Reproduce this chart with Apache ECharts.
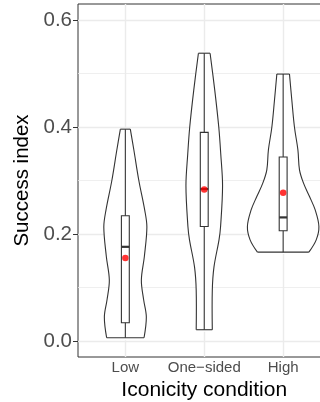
<!DOCTYPE html>
<html><head><meta charset="utf-8">
<script src="https://cdn.jsdelivr.net/npm/echarts@6/dist/echarts.min.js"></script>
<style>html,body{margin:0;padding:0;background:#fff}#c{width:320px;height:402px}</style>
</head><body><div id="c"></div>
<script>
const categories = ['Low', 'One\u2212sided', 'High'];
const xTickValues = [1, 2, 3];
const yTicks = [0, 0.2, 0.4, 0.6];
const yMinorGrid = [0.1, 0.3, 0.5];

// violin outlines (bottom to top): y values and half-widths in x-axis units
const lowViolinY = [0.006, 0.045, 0.077, 0.114, 0.158, 0.213, 0.245, 0.300, 0.357, 0.396];
const lowViolinW = [0.237, 0.266, 0.232, 0.203, 0.241, 0.273, 0.245, 0.171, 0.108, 0.063];
const oneViolinY = [0.021, 0.095, 0.138, 0.189, 0.214, 0.290, 0.350, 0.400, 0.469, 0.538];
const oneViolinW = [0.102, 0.102, 0.123, 0.187, 0.207, 0.232, 0.209, 0.184, 0.133, 0.074];
const highViolinY = [0.166, 0.189, 0.214, 0.245, 0.270, 0.295, 0.320, 0.357, 0.400, 0.450, 0.499];
const highViolinW = [0.326, 0.419, 0.453, 0.406, 0.334, 0.258, 0.207, 0.187, 0.143, 0.110, 0.080];

// boxplot statistics
const whiskerLow  = [0.006, 0.021, 0.166];
const q1          = [0.034, 0.214, 0.206];
const median      = [0.176, 0.284, 0.231];
const q3          = [0.234, 0.390, 0.344];
const whiskerHigh = [0.396, 0.538, 0.499];
const means       = [0.155, 0.283, 0.277];

const violinY = [lowViolinY, oneViolinY, highViolinY];
const violinW = [lowViolinW, oneViolinW, highViolinW];

const FONT = 'Liberation Sans, Arial, Helvetica, sans-serif';
const INK = '#333333';

function renderViolin(params, api) {
  const i = params.dataIndex;
  const cx = api.value(0);
  const ys = violinY[i], ws = violinW[i];
  const left = ys.map((y, k) => api.coord([cx - ws[k], y]));
  const right = ys.map((y, k) => api.coord([cx + ws[k], y]));
  const outline = left.concat(right.slice().reverse());
  const stroke = { stroke: INK, lineWidth: 1.1, fill: 'none' };
  const bw = 0.05;
  const tl = api.coord([cx - bw, q3[i]]);
  const br = api.coord([cx + bw, q1[i]]);
  const wLo = api.coord([cx, whiskerLow[i]]);
  const wHi = api.coord([cx, whiskerHigh[i]]);
  const mL = api.coord([cx - bw, median[i]]);
  const mR = api.coord([cx + bw, median[i]]);
  const n = left.length - 1;
  return {
    type: 'group',
    children: [
      { type: 'polygon', shape: { points: outline, smooth: 0.25 }, style: { fill: '#ffffff' } },
      { type: 'polyline', shape: { points: left, smooth: 0.35 }, style: stroke },
      { type: 'polyline', shape: { points: right, smooth: 0.35 }, style: stroke },
      { type: 'line', shape: { x1: left[0][0], y1: left[0][1], x2: right[0][0], y2: right[0][1] }, style: stroke },
      { type: 'line', shape: { x1: left[n][0], y1: left[n][1], x2: right[n][0], y2: right[n][1] }, style: stroke },
      { type: 'line', shape: { x1: wLo[0], y1: wLo[1], x2: wHi[0], y2: wHi[1] }, style: stroke },
      { type: 'rect', shape: { x: tl[0], y: tl[1], width: br[0] - tl[0], height: br[1] - tl[1] },
        style: { fill: '#ffffff', stroke: INK, lineWidth: 1.1 } },
      { type: 'line', shape: { x1: mL[0], y1: mL[1], x2: mR[0], y2: mR[1] }, style: { stroke: INK, lineWidth: 2.2 } }
    ]
  };
}

const gridLines = [
  ...yTicks.map(v => ({ yAxis: v, lineStyle: { width: 1.4 } })),
  ...yMinorGrid.map(v => ({ yAxis: v, lineStyle: { width: 0.8 } })),
  ...xTickValues.map(v => ({ xAxis: v, lineStyle: { width: 1.4 } }))
];

const chart = echarts.init(document.getElementById('c'), null, { renderer: 'canvas' });
chart.setOption({
  animation: false,
  backgroundColor: '#ffffff',
  textStyle: { fontFamily: FONT },
  grid: { left: 78, top: 4, width: 252.5, height: 353, containLabel: false, outerBoundsMode: 'none',
    show: true, borderColor: INK, borderWidth: 1, backgroundColor: 'transparent' },
  xAxis: {
    type: 'value', min: 0.4, max: 3.6,
    axisLine: { show: false },
    splitLine: { show: false },
    axisTick: { show: true, customValues: xTickValues, length: 4, lineStyle: { color: INK, width: 1 } },
    axisLabel: { customValues: xTickValues, formatter: v => categories[Math.round(v) - 1], color: '#4d4d4d', fontSize: 15, margin: 3, fontFamily: FONT },
    name: 'Iconicity condition', nameLocation: 'middle', nameGap: 20,
    nameTextStyle: { fontSize: 21, color: '#000000', fontFamily: FONT }
  },
  yAxis: {
    type: 'value', min: -0.03, max: 0.63,
    axisLine: { show: false },
    splitLine: { show: false },
    axisTick: { show: true, customValues: yTicks, length: 5, lineStyle: { color: INK, width: 1 } },
    axisLabel: { customValues: yTicks, formatter: v => v.toFixed(1), color: '#4d4d4d', fontSize: 20.5, margin: 6, fontFamily: FONT },
    name: 'Success index', nameLocation: 'middle', nameGap: 38,
    nameTextStyle: { fontSize: 20.5, color: '#000000', fontFamily: FONT }
  },
  series: [
    {
      type: 'line', data: [], silent: true, z: 1,
      markLine: { silent: true, z: 1, symbol: 'none', animation: false, label: { show: false },
        lineStyle: { color: '#ebebeb', type: 'solid' }, emphasis: { disabled: true }, data: gridLines }
    },
    {
      type: 'custom', z: 3, silent: true,
      data: categories.map((c, i) => [xTickValues[i], whiskerLow[i], whiskerHigh[i]]),
      encode: { x: 0, y: [1, 2] },
      renderItem: renderViolin
    },
    {
      type: 'scatter', z: 4, silent: true,
      data: means.map((m, i) => [xTickValues[i], m]),
      symbol: 'circle', symbolSize: 6.5,
      itemStyle: { color: '#ff0000' }
    }
  ]
});
</script>
</body></html>
